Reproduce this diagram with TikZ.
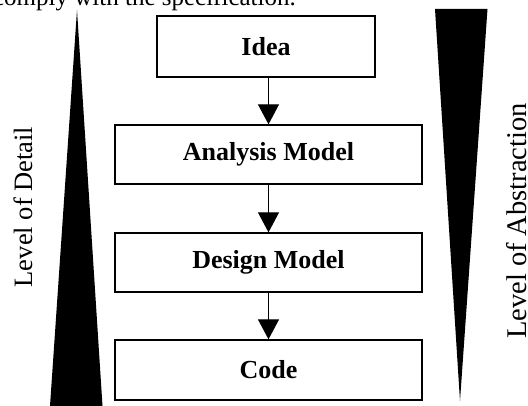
\documentclass[tikz,border=0pt]{standalone}
\usepackage{fontspec}
\setmainfont{Liberation Serif}
\usetikzlibrary{arrows.meta}
\begin{document}
\begin{tikzpicture}[x=1pt,y=-1pt,
  box/.style={draw, line width=1.3pt, fill=white, font=\fontsize{26}{30}\selectfont\bfseries, inner sep=0pt},
  flow/.style={line width=1pt, -{Triangle[width=21pt,length=20pt]}},
  label/.style={font=\fontsize{26.5}{32}\selectfont, inner sep=0pt, rotate=90, anchor=base}]
\useasboundingbox (0,0) rectangle (528,406);
\clip (0,0) rectangle (528,406);
% cut-off line of text above
\node[anchor=base east, inner sep=0pt, font=\fontsize{25}{30}\selectfont] (prev) at (296,6) {comply with the specification.};
% wedges
\fill (77,10) -- (102.5,406) -- (50,406) -- cycle;
\fill (435,9) -- (487.5,9) -- (460,401) -- cycle;
% labels
\node[label] (detail) at (32,207) {Level of Detail};
\node[label, font=\fontsize{28.5}{34}\selectfont] (abstr) at (526,221) {Level of Abstraction};
% boxes
\node[box, minimum width=218pt, minimum height=61pt] (idea) at (266,46.5) {Idea};
\node[box, minimum width=307pt, minimum height=59pt] (analysis) at (268.5,154.5) {Analysis Model};
\node[box, minimum width=307pt, minimum height=59pt] (design) at (268.5,262.5) {Design Model};
\node[box, minimum width=307pt, minimum height=60pt] (code) at (268.5,370) {Code};
% arrows
\draw[flow] (idea.south -| 268.5,0) -- (analysis.north);
\draw[flow] (analysis) -- (design);
\draw[flow] (design) -- (code);
\end{tikzpicture}
\end{document}
